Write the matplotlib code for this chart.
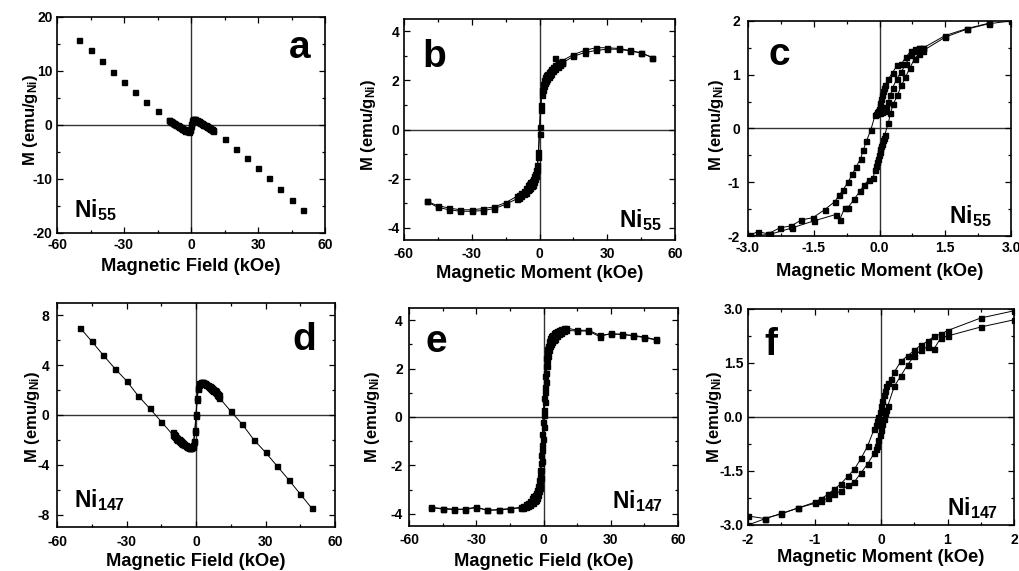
import matplotlib
matplotlib.use("Agg")
import matplotlib.pyplot as plt

plt.rcParams['font.family'] = ['Liberation Sans', 'DejaVu Sans']
plt.rcParams['font.weight'] = 'bold'
plt.rcParams['axes.labelweight'] = 'bold'
plt.rcParams['mathtext.fontset'] = 'custom'
plt.rcParams['mathtext.rm'] = 'Liberation Sans:bold'
plt.rcParams['mathtext.bf'] = 'Liberation Sans:bold'
plt.rcParams['mathtext.it'] = 'Liberation Sans:bold'
plt.rcParams['mathtext.default'] = 'rm'

# ---------------- data ----------------
# (a) Ni55, full field
a_H_far = [-50, -45, -40, -35, -30, -25, -20, -15, 15, 20, 25, 30, 35, 40, 45, 50]
a_M_far = [15.8, 13.8, 11.8, 9.9, 8.0, 6.2, 4.3, 2.6, -2.6, -4.4, -6.2, -8.0, -9.9, -11.8, -13.8, -15.8]
a_H_up = [-10, -9.5, -9, -8.5, -8, -7.5, -7, -6.5, -6, -5.5, -5, -4.5, -4, -3.5, -3, -2.5, -2, -1.5, -1, -0.5,
          0, 0.5, 1, 1.5, 2, 2.5, 3, 3.5, 4, 4.5, 5, 5.5, 6, 6.5, 7, 7.5, 8, 8.5, 9, 9.5, 10]
a_M_up = [0.95, 0.83, 0.7, 0.58, 0.45, 0.33, 0.2, 0.08, -0.05, -0.18, -0.3, -0.43, -0.55, -0.68, -0.8, -0.93, -1.05, -1.2, -1.3, -1.0,
          -0.2, 0.6, 1.0, 1.1, 1.05, 0.93, 0.8, 0.68, 0.55, 0.43, 0.3, 0.18, 0.05, -0.08, -0.2, -0.33, -0.45, -0.58, -0.7, -0.83, -0.95]
a_H_dn = [10, 9.5, 9, 8.5, 8, 7.5, 7, 6.5, 6, 5.5, 5, 4.5, 4, 3.5, 3, 2.5, 2, 1.5, 1, 0.5,
          0, -0.5, -1, -1.5, -2, -2.5, -3, -3.5, -4, -4.5, -5, -5.5, -6, -6.5, -7, -7.5, -8, -8.5, -9, -9.5, -10]
a_M_dn = [-1.05, -0.93, -0.8, -0.68, -0.55, -0.43, -0.3, -0.18, -0.05, 0.08, 0.2, 0.33, 0.45, 0.58, 0.7, 0.83, 0.95, 1.1, 1.2, 0.9,
          0.1, -0.7, -1.1, -1.2, -1.15, -1.03, -0.9, -0.78, -0.65, -0.53, -0.4, -0.28, -0.15, -0.03, 0.1, 0.23, 0.35, 0.48, 0.6, 0.73, 0.85]

# (b) Ni55, full loop
b_H_dn = [50, 45, 40, 35, 30, 25, 20, 15, 10, 9, 8, 7, 6, 5, 4.5, 4, 3.5, 3, 2.5, 2, 1.5, 1, 0.5, 0,
          -0.5, -1, -1.5, -2, -2.5, -3, -3.5, -4, -4.5, -5, -6, -7, -8, -9, -10, -15, -20, -25, -30, -35, -40, -45, -50]
b_M_dn = [2.93, 3.12, 3.22, 3.3, 3.33, 3.33, 3.22, 3.05, 2.8, 2.75, 2.7, 2.62, 2.55, 2.45, 2.4, 2.35, 2.28, 2.22, 2.12, 2.0, 1.85, 1.6, 1.0, 0.1,
          -0.9, -1.45, -1.65, -1.8, -1.9, -2.0, -2.08, -2.15, -2.22, -2.28, -2.4, -2.5, -2.58, -2.66, -2.72, -2.98, -3.15, -3.22, -3.27, -3.27, -3.2, -3.1, -2.93]
b_H_up = [-50, -45, -40, -35, -30, -25, -20, -15, -10, -9, -8, -7, -6, -5, -4.5, -4, -3.5, -3, -2.5, -2, -1.5, -1, -0.5, 0,
          0.5, 1, 1.5, 2, 2.5, 3, 3.5, 4, 4.5, 5, 6, 7, 8, 9, 10, 15, 20, 25, 30, 35, 40, 45, 50]
b_M_up = [-2.93, -3.17, -3.27, -3.33, -3.33, -3.3, -3.22, -3.05, -2.82, -2.77, -2.72, -2.64, -2.57, -2.48, -2.43, -2.38, -2.31, -2.25, -2.15, -2.03, -1.88, -1.65, -1.1, -0.2,
          0.8, 1.4, 1.62, 1.78, 1.88, 1.98, 2.06, 2.13, 2.2, 2.26, 2.38, 2.48, 2.56, 2.64, 2.7, 2.98, 3.13, 3.22, 3.27, 3.27, 3.2, 3.12, 2.93]
b_H_start = [7, 8, 10]
b_M_start = [2.93, 2.75, 2.72]

# (c) Ni55, low-field loop
c_H_dn = [2.5, 2.0, 1.5, 1.0, 0.9, 0.8, 0.73, 0.6, 0.5, 0.4, 0.3, 0.2, 0.12, 0.1, 0.08, 0.06, 0.04, 0.02, 0.0, -0.02, -0.04, -0.06, -0.08, -0.1, -0.2, -0.3, -0.37, -0.43, -0.53, -0.62, -0.72, -0.83, -0.92, -1.02, -1.25, -1.52, -1.78, -2.01, -2.28, -2.54, -2.77, -2.96]
c_M_dn = [1.96, 1.86, 1.73, 1.5, 1.5, 1.48, 1.45, 1.33, 1.2, 1.18, 1.04, 0.92, 0.8, 0.75, 0.7, 0.62, 0.55, 0.48, 0.42, 0.37, 0.33, 0.3, 0.27, 0.25, -0.03, -0.24, -0.4, -0.56, -0.71, -0.85, -1.0, -1.14, -1.24, -1.36, -1.51, -1.66, -1.7, -1.81, -1.85, -1.96, -1.92, -1.98]
c_H_up = [-2.96, -2.5, -2.0, -1.5, -1.0, -0.91, -0.79, -0.72, -0.58, -0.45, -0.35, -0.25, -0.15, -0.1, -0.08, -0.06, -0.04, -0.02, 0.0, 0.02, 0.04, 0.06, 0.08, 0.1, 0.12, 0.2, 0.25, 0.31, 0.41, 0.5, 0.59, 0.69, 0.8, 0.9, 1.0, 1.5, 2.0, 2.5, 3.0]
c_M_up = [-2.0, -1.97, -1.85, -1.72, -1.6, -1.7, -1.47, -1.47, -1.32, -1.17, -1.05, -0.96, -0.93, -0.77, -0.7, -0.62, -0.56, -0.5, -0.44, -0.38, -0.33, -0.28, -0.22, -0.17, -0.12, 0.1, 0.28, 0.45, 0.62, 0.8, 0.95, 1.12, 1.3, 1.38, 1.45, 1.7, 1.85, 1.95, 2.0]
c_H_init = [0.0, 0.05, 0.1, 0.15, 0.2, 0.25, 0.3, 0.4, 0.5, 0.6, 0.71, 0.8, 0.9, 1.0]
c_M_init = [0.28, 0.3, 0.33, 0.4, 0.5, 0.62, 0.76, 0.93, 1.06, 1.2, 1.37, 1.45, 1.5, 1.5]

# (d) Ni147, full field
d_H_up = [-50, -45, -40, -35, -30, -25, -20, -15,
          -10, -9.5, -9, -8.5, -8, -7.5, -7, -6.5, -6, -5.5, -5, -4.5, -4, -3.5, -3, -2.5, -2, -1.5, -1, -0.5,
          0, 0.5, 1, 1.5, 2, 2.5, 3, 3.5, 4, 4.5, 5, 5.5, 6, 6.5, 7, 7.5, 8, 8.5, 9, 9.5, 10,
          15, 20, 25, 30, 35, 40, 45, 50]
d_M_up = [7.0, 5.92, 4.8, 3.73, 2.75, 1.55, 0.53, -0.53,
          -1.6, -1.7, -1.8, -1.9, -1.98, -2.07, -2.15, -2.23, -2.3, -2.36, -2.42, -2.49, -2.55, -2.6, -2.63, -2.65, -2.6, -2.4, -2.1, -1.2,
          0.1, 1.4, 2.2, 2.55, 2.65, 2.65, 2.6, 2.56, 2.5, 2.43, 2.35, 2.28, 2.2, 2.11, 2.02, 1.94, 1.85, 1.74, 1.62, 1.51, 1.4,
          0.3, -0.75, -2.0, -3.0, -4.1, -5.2, -6.35, -7.5]
d_H_dn = [10, 9.5, 9, 8.5, 8, 7.5, 7, 6.5, 6, 5.5, 5, 4.5, 4, 3.5, 3, 2.5, 2, 1.5, 1, 0.5,
          0, -0.5, -1, -1.5, -2, -2.5, -3, -3.5, -4, -4.5, -5, -5.5, -6, -6.5, -7, -7.5, -8, -8.5, -9, -9.5, -10]
d_M_dn = [1.6, 1.7, 1.8, 1.9, 1.98, 2.07, 2.15, 2.23, 2.3, 2.36, 2.42, 2.49, 2.55, 2.6, 2.63, 2.65, 2.6, 2.4, 2.1, 1.2,
          -0.1, -1.4, -2.2, -2.55, -2.65, -2.65, -2.6, -2.56, -2.5, -2.43, -2.35, -2.28, -2.2, -2.11, -2.02, -1.94, -1.85, -1.74, -1.62, -1.51, -1.4]

# (e) Ni147, full loop
e_H_up = [-50, -45, -40, -35, -30, -25, -20, -15, -10, -9, -8, -7, -6, -5, -4.5, -4, -3.5, -3, -2.5, -2,
          -1.75, -1.5, -1.25, -1, -0.75, -0.5, -0.25, 0, 0.25, 0.5, 0.75, 1, 1.25, 1.5, 1.75, 2,
          2.5, 3, 3.5, 4, 4.5, 5, 6, 7, 8, 9, 10, 15, 20, 25, 30, 35, 40, 45, 50]
e_M_up = [-3.74, -3.8, -3.82, -3.8, -3.72, -3.86, -3.82, -3.78, -3.76, -3.74, -3.71, -3.68, -3.63, -3.57, -3.53, -3.48, -3.42, -3.34, -3.22, -3.05,
          -2.92, -2.75, -2.52, -2.2, -1.8, -1.35, -0.9, -0.4, 0.1, 0.6, 1.05, 1.45, 1.8, 2.1, 2.35, 2.52,
          2.78, 2.92, 3.02, 3.1, 3.17, 3.22, 3.33, 3.42, 3.48, 3.54, 3.58, 3.55, 3.55, 3.32, 3.45, 3.4, 3.37, 3.3, 3.2]
e_H_dn = [50, 45, 40, 35, 30, 25, 20, 15, 10, 9, 8, 7, 6, 5, 4.5, 4, 3.5, 3, 2.5, 2,
          1.75, 1.5, 1.25, 1, 0.75, 0.5, 0.25, 0, -0.25, -0.5, -0.75, -1, -1.25, -1.5, -1.75, -2,
          -2.5, -3, -3.5, -4, -4.5, -5, -6, -7, -8, -9, -10, -15, -20, -25, -30, -35, -40, -45, -50]
e_M_dn = [3.18, 3.28, 3.35, 3.42, 3.42, 3.38, 3.58, 3.58, 3.68, 3.66, 3.63, 3.6, 3.55, 3.49, 3.45, 3.4, 3.33, 3.25, 3.12, 2.95,
          2.82, 2.65, 2.42, 2.1, 1.7, 1.25, 0.8, 0.3, -0.2, -0.7, -1.15, -1.55, -1.9, -2.2, -2.42, -2.6,
          -2.85, -3.0, -3.12, -3.2, -3.28, -3.34, -3.45, -3.53, -3.6, -3.66, -3.72, -3.8, -3.84, -3.84, -3.74, -3.82, -3.8, -3.78, -3.73]

# (f) Ni147, low-field loop
f_H_dn = [2.0, 1.5, 1.0, 0.9, 0.8, 0.7, 0.6, 0.5, 0.4, 0.3, 0.2, 0.15, 0.1, 0.08, 0.06, 0.04, 0.02, 0.0, -0.02, -0.04, -0.06, -0.08, -0.1, -0.2, -0.3, -0.4, -0.5, -0.6, -0.7, -0.8, -0.9, -1.0, -1.25, -1.5, -1.75, -2.0]
f_M_dn = [2.95, 2.75, 2.4, 2.3, 2.25, 2.1, 2.0, 1.85, 1.7, 1.55, 1.25, 1.05, 0.95, 0.85, 0.72, 0.6, 0.45, 0.3, 0.15, 0.0, -0.12, -0.22, -0.32, -0.8, -1.15, -1.45, -1.65, -1.85, -2.0, -2.15, -2.27, -2.37, -2.53, -2.68, -2.83, -3.0]
f_H_up = [-2.0, -1.75, -1.5, -1.25, -1.0, -0.9, -0.8, -0.7, -0.6, -0.5, -0.4, -0.3, -0.2, -0.1, -0.08, -0.06, -0.04, -0.02, 0.0, 0.02, 0.04, 0.06, 0.08, 0.1, 0.2, 0.3, 0.4, 0.5, 0.6, 0.7, 0.8, 0.9, 1.0, 1.5, 2.0]
f_M_up = [-2.75, -2.82, -2.69, -2.53, -2.4, -2.33, -2.25, -2.15, -2.05, -1.9, -1.8, -1.55, -1.3, -1.0, -0.9, -0.8, -0.65, -0.5, -0.35, -0.2, -0.05, 0.1, 0.2, 0.3, 0.85, 1.15, 1.45, 1.7, 1.85, 1.95, 1.9, 2.2, 2.25, 2.5, 2.7]

# ---------------- figure ----------------
W, H = 1019, 571
fig = plt.figure(figsize=(W / 100, H / 100), dpi=100)


def px_axes(x0, y0, x1, y1):
    return fig.add_axes([x0 / W, 1 - y1 / H, (x1 - x0) / W, (y1 - y0) / H])


def style(ax, box, xlim, ylim, xt, xtl, yt, ytl, xminor, yminor,
          xlabel, xlab_y, ylab_x, ylab_yc, xpad, ypad, letter, lpos, sample, spos, sha):
    x0, y0, x1, y1 = box
    ax.set_xlim(xlim)
    ax.set_ylim(ylim)
    ax.set_xticks(xt)
    ax.set_xticklabels(xtl)
    ax.set_yticks(yt)
    ax.set_yticklabels(ytl)
    ax.set_xticks(xminor, minor=True)
    ax.set_yticks(yminor, minor=True)
    ax.tick_params(which='both', direction='in', top=True, right=True,
                   colors='black', width=0.9)
    ax.tick_params(which='major', length=4)
    ax.tick_params(which='minor', length=2.5)
    ax.tick_params(axis='x', which='major', pad=xpad * 0.72, labelsize=10)
    ax.tick_params(axis='y', which='major', pad=ypad * 0.72, labelsize=10)
    for lab in ax.get_xticklabels() + ax.get_yticklabels():
        lab.set_fontweight('bold')
    for s in ax.spines.values():
        s.set_linewidth(1.2)
    ax.axhline(0, color='#333333', lw=1.0, zorder=1)
    ax.axvline(0, color='#333333', lw=1.0, zorder=1)
    ax.set_xlabel(xlabel, fontsize=13.2, fontweight='bold', va='center')
    ax.xaxis.set_label_coords(0.5, 1 - (xlab_y - y0) / (y1 - y0))
    ax.set_ylabel('M (emu/g$_{Ni}$)', fontsize=12, fontweight='bold', va='center')
    ax.yaxis.set_label_coords((ylab_x - x0) / (x1 - x0), 1 - (ylab_yc - y0) / (y1 - y0))
    ax.text(lpos[0], lpos[1], letter, transform=ax.transAxes, fontsize=28,
            fontweight='bold', ha='center', va='baseline')
    ax.text(spos[0], spos[1], sample, transform=ax.transAxes, fontsize=16.5,
            fontweight='bold', ha=sha, va='baseline')


mk = dict(marker='s', ms=3.6, color='black', mec='black', lw=0.7)
pts = dict(marker='s', ms=3.6, color='black', mec='black', ls='none')

# (a)
box = (57, 17, 325, 233)
ax = px_axes(*box)
ax.plot(a_H_far, a_M_far, **pts)
ax.plot(a_H_up, a_M_up, **pts)
ax.plot(a_H_dn, a_M_dn, **pts)
style(ax, box, (-60, 60), (-20, 20), [-60, -30, 0, 30, 60], ['-60', '-30', '0', '30', '60'],
      [-20, -10, 0, 10, 20], ['-20', '-10', '0', '10', '20'],
      [-45, -15, 15, 45], [-15, -5, 5, 15],
      'Magnetic Field (kOe)', 267, 31, 120, 5.5, 4.3, 'a', (0.907, 0.809), 'Ni$_{55}$', (0.063, 0.075), 'left')

# (b)
box = (404, 19, 675, 240)
ax = px_axes(*box)
ax.plot(b_H_dn, b_M_dn, **mk)
ax.plot(b_H_up, b_M_up, **mk)
ax.plot(b_H_start, b_M_start, **mk)
style(ax, box, (-60, 60), (-4.5, 4.5), [-60, -30, 0, 30, 60], ['-60', '-30', '0', '30', '60'],
      [-4, -2, 0, 2, 4], ['-4', '-2', '0', '2', '4'],
      [-45, -15, 15, 45], [-3, -1, 1, 3],
      'Magnetic Moment (kOe)', 273, 368, 125, 7.5, 4.7, 'b', (0.111, 0.784), 'Ni$_{55}$', (0.951, 0.06), 'right')

# (c)
box = (748, 21, 1011, 236)
ax = px_axes(*box)
ax.plot(c_H_dn, c_M_dn, **mk)
ax.plot(c_H_up, c_M_up, **mk)
ax.plot(c_H_init, c_M_init, **mk)
style(ax, box, (-3, 3), (-2, 2), [-3, -1.5, 0, 1.5, 3], ['-3.0', '-1.5', '0.0', '1.5', '3.0'],
      [-2, -1, 0, 1, 2], ['-2', '-1', '0', '1', '2'],
      [-2.25, -0.75, 0.75, 2.25], [-1.5, -0.5, 0.5, 1.5],
      'Magnetic Moment (kOe)', 271, 717, 125, 5.5, 8, 'c', (0.119, 0.795), 'Ni$_{55}$', (0.927, 0.059), 'right')

# (d)
box = (57, 303, 335, 527)
ax = px_axes(*box)
ax.plot(d_H_up, d_M_up, **mk)
ax.plot(d_H_dn, d_M_dn, **mk)
style(ax, box, (-60, 60), (-9, 9), [-60, -30, 0, 30, 60], ['-60', '-30', '0', '30', '60'],
      [-8, -4, 0, 4, 8], ['-8', '-4', '0', '4', '8'],
      [-45, -15, 15, 45], [-6, -2, 2, 6],
      'Magnetic Field (kOe)', 562, 32, 417, 8.5, 7.5, 'd', (0.888, 0.79), 'Ni$_{147}$', (0.061, 0.091), 'left')

# (e)
box = (409, 308, 678, 526)
ax = px_axes(*box)
ax.plot(e_H_up, e_M_up, **mk)
ax.plot(e_H_dn, e_M_dn, **mk)
style(ax, box, (-60, 60), (-4.5, 4.5), [-60, -30, 0, 30, 60], ['-60', '-30', '0', '30', '60'],
      [-4, -2, 0, 2, 4], ['-4', '-2', '0', '2', '4'],
      [-45, -15, 15, 45], [-3, -1, 1, 3],
      'Magnetic Field (kOe)', 562, 373, 417, 6.5, 6.3, 'e', (0.1, 0.8), 'Ni$_{147}$', (0.944, 0.084), 'right')

# (f)
box = (748, 309, 1014, 525)
ax = px_axes(*box)
ax.plot(f_H_dn, f_M_dn, **mk)
ax.plot(f_H_up, f_M_up, **mk)
style(ax, box, (-2, 2), (-3, 3), [-2, -1, 0, 1, 2], ['-2', '-1', '0', '1', '2'],
      [-3, -1.5, 0, 1.5, 3], ['-3.0', '-1.5', '0.0', '1.5', '3.0'],
      [-1.5, -0.5, 0.5, 1.5], [-2.25, -0.75, 0.75, 2.25],
      'Magnetic Moment (kOe)', 557, 714, 417, 7.5, 4.7, 'f', (0.086, 0.787), 'Ni$_{147}$', (0.94, 0.046), 'right')

fig.savefig('out.png', dpi=100)
